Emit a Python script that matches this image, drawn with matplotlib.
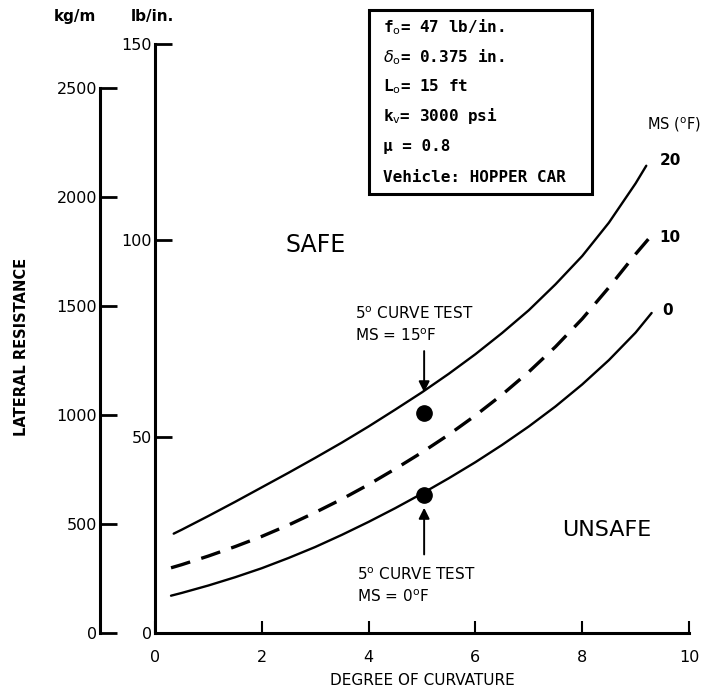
import matplotlib
matplotlib.use("Agg")
import matplotlib.pyplot as plt
from matplotlib.patches import Rectangle

# Degree of curvature vs. lateral resistance (lb/in.) for three MS values
deg_ms20 = [0.35, 0.5, 1, 1.5, 2, 2.5, 3, 3.5, 4, 4.5, 5, 5.5, 6, 6.5, 7, 7.5, 8, 8.5, 9, 9.2]
res_ms20 = [25.3, 26.3, 29.8, 33.4, 37.1, 40.8, 44.6, 48.5, 52.6, 56.9, 61.3, 66.0,
            71.0, 76.4, 82.2, 88.8, 96.0, 104.5, 114.5, 119.0]

deg_ms10 = [0.3, 0.5, 1, 1.5, 2, 2.5, 3, 3.5, 4, 4.5, 5, 5.5, 6, 6.5, 7, 7.5, 8, 8.5, 9, 9.27]
res_ms10 = [16.6, 17.4, 19.6, 22.0, 24.6, 27.5, 30.7, 34.1, 37.8, 41.8, 46.0, 50.5,
            55.4, 60.7, 66.5, 72.9, 80.0, 88.0, 96.5, 100.8]

deg_ms0 = [0.3, 0.5, 1, 1.5, 2, 2.5, 3, 3.5, 4, 4.5, 5, 5.5, 6, 6.5, 7, 7.5, 8, 8.5, 9, 9.3]
res_ms0 = [9.5, 10.2, 12.1, 14.2, 16.5, 19.1, 21.9, 25.0, 28.3, 31.8, 35.5, 39.4,
           43.5, 47.9, 52.6, 57.7, 63.3, 69.5, 76.5, 81.5]

# 5-degree curve test results
test_deg = [5.04, 5.04]
test_res = [56.0, 35.1]

x_ticks = [0, 2, 4, 6, 8, 10]
lbin_ticks = [0, 50, 100, 150]
kgm_ticks = [0, 500, 1000, 1500, 2000, 2500]
KG_PER_LBIN = 18.0

W, H = 705, 691
fig = plt.figure(figsize=(W / 100, H / 100), dpi=100)
plt.rcParams['font.family'] = ['DejaVu Sans']

def fx(px):
    return px / W

def fy(py):
    return 1 - py / H

rect = [fx(155), fy(633), fx(689) - fx(155), fy(44) - fy(633)]
ax = fig.add_axes(rect)
ax.set_xlim(0, 10)
ax.set_ylim(0, 150)
for s in ('top', 'right'):
    ax.spines[s].set_visible(False)
for s in ('left', 'bottom'):
    ax.spines[s].set_linewidth(2.2)
ax.set_xticks(x_ticks)
ax.set_yticks(lbin_ticks)
ax.tick_params(axis='y', direction='in', length=12, width=2, pad=2, labelsize=11.5)
ax.tick_params(axis='x', direction='in', length=9, width=1.5, pad=12, labelsize=11.5)
ax.set_xlabel('DEGREE OF CURVATURE', fontsize=11, labelpad=6)

# outer kg/m scale
ax2 = fig.add_axes(rect)
ax2.patch.set_visible(False)
ax2.set_ylim(0, 150 * KG_PER_LBIN)
ax2.set_xticks([])
for s in ('top', 'right', 'bottom'):
    ax2.spines[s].set_visible(False)
ax2.spines['left'].set_position(('outward', 55 * 0.72))
ax2.spines['left'].set_bounds(0, 2500)
ax2.spines['left'].set_linewidth(2.2)
ax2.set_yticks(kgm_ticks)
ax2.tick_params(axis='y', direction='in', length=12, width=2, pad=2, labelsize=11.5)

# curves
ax.plot(deg_ms20, res_ms20, color='black', lw=1.7, solid_capstyle='round',
        solid_joinstyle='round')
ax.plot(deg_ms10, res_ms10, color='black', lw=2.4, dashes=(6, 3.5))
ax.plot(deg_ms0, res_ms0, color='black', lw=1.7, solid_capstyle='round',
        solid_joinstyle='round')
ax.plot(test_deg, test_res, 'o', color='black', ms=11)

# test annotations
ax.annotate('', xy=(test_deg[0], 60.6), xytext=(test_deg[0], 72.5),
            arrowprops=dict(arrowstyle='-|>', lw=1.4, color='black', mutation_scale=16))
ax.annotate('', xy=(test_deg[1], 32.6), xytext=(test_deg[1], 19.3),
            arrowprops=dict(arrowstyle='-|>', lw=1.4, color='black', mutation_scale=16))
ax.text(3.75, 81.4, r'5$^\mathrm{o}$ CURVE TEST', fontsize=11, va='center', ha='left')
ax.text(3.75, 75.8, r'MS = 15$^\mathrm{o}$F', fontsize=11, va='center', ha='left')
ax.text(3.78, 14.8, r'5$^\mathrm{o}$ CURVE TEST', fontsize=11, va='center', ha='left')
ax.text(3.78, 9.2, r'MS = 0$^\mathrm{o}$F', fontsize=11, va='center', ha='left')

ax.text(3.01, 98.7, 'SAFE', fontsize=17, ha='center', va='center')
ax.text(8.46, 26.2, 'UNSAFE', fontsize=16, ha='center', va='center')

# curve labels
ax.text(9.45, 120.4, '20', fontsize=11, ha='left', va='center', fontweight='bold')
ax.text(9.45, 100.8, '10', fontsize=11, ha='left', va='center', fontweight='bold')
ax.text(9.5, 82.2, '0', fontsize=11, ha='left', va='center', fontweight='bold')
fig.text(fx(701), fy(125), r'MS ($^\mathrm{o}$F)', fontsize=10.5, ha='right', va='center')

# axis unit labels
fig.text(fx(75), fy(17), 'kg/m', fontsize=11, ha='center', va='center', fontweight='bold')
fig.text(fx(152), fy(17), 'lb/in.', fontsize=11, ha='center', va='center', fontweight='bold')
fig.text(fx(22), fy(347), 'LATERAL RESISTANCE', fontsize=10.5, rotation=90,
         ha='center', va='center', fontweight='bold')

# parameter box
fig.add_artist(Rectangle((fx(369), fy(194)), fx(592) - fx(369), fy(10) - fy(194),
                         transform=fig.transFigure, fill=False, lw=2.2, color='black'))
box_lines = [r'f$_\mathrm{o}$= 47 lb/in.',
             r'$\delta_\mathrm{o}$= 0.375 in.',
             r'L$_\mathrm{o}$= 15 ft',
             r'k$_\mathrm{v}$= 3000 psi',
             'µ = 0.8',
             'Vehicle: HOPPER CAR']
box_y = [27, 57, 87, 116, 146, 177]
for t, y in zip(box_lines, box_y):
    fig.text(fx(383), fy(y), t, fontsize=11.5, family='DejaVu Sans Mono',
             fontweight='bold', ha='left', va='center')

fig.savefig('out.png', dpi=100)
